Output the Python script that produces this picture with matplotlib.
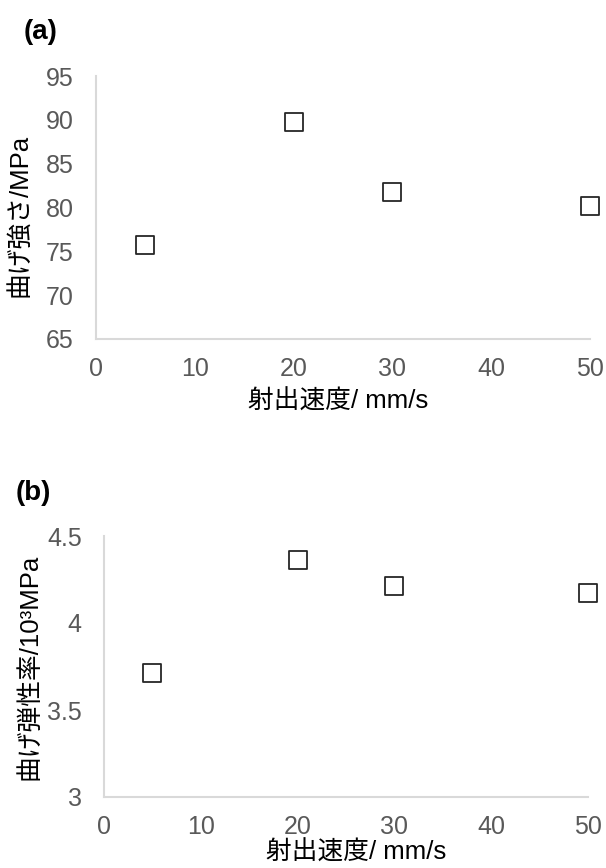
import matplotlib
matplotlib.use("Agg")
import matplotlib.pyplot as plt

plt.rcParams['font.family'] = ['Liberation Sans', 'Noto Sans CJK JP', 'DejaVu Sans']

# injection speed (mm/s)
speed = [5, 20, 30, 50]
strength = [75.7, 89.7, 81.8, 80.2]      # flexural strength, MPa
modulus = [3.71, 4.36, 4.21, 4.17]       # flexural modulus, 10^3 MPa

xticks = [0, 10, 20, 30, 40, 50]
yticks_a = [65, 70, 75, 80, 85, 90, 95]
yticks_b = [3, 3.5, 4, 4.5]
yticklabels_b = ['3', '3.5', '4', '4.5']

W, H = 606, 868
fig = plt.figure(figsize=(W/100, H/100), dpi=100)

def px_axes(left, top, right, bottom):
    return fig.add_axes([left/W, 1 - bottom/H, (right-left)/W, (bottom-top)/H])

def style(ax):
    for s in ['top', 'right']:
        ax.spines[s].set_visible(False)
    for s in ['left', 'bottom']:
        ax.spines[s].set_color('#d9d9d9')
        ax.spines[s].set_linewidth(1.5)
    ax.tick_params(length=0, labelsize=18, labelcolor='#595959')
    ax.tick_params(axis='x', pad=13)
    ax.tick_params(axis='y', pad=16)
    ax.set_xticks(xticks)
    ax.set_xlim(0, 50)

def labels(ax, xl, yl, xlx, xly, ylx, yly):
    ax.set_xlabel(xl, fontsize=18.5, va='center')
    ax.set_ylabel(yl, fontsize=18.5, va='center')
    ax.xaxis.set_label_coords(xlx, xly)
    ax.yaxis.set_label_coords(ylx, yly)

# (a)
ax1 = px_axes(96, 76, 590, 339)
ax1.scatter(speed, strength, marker='s', s=150, facecolors='white',
            edgecolors='#262626', linewidths=1.3, clip_on=False, zorder=3)
style(ax1)
ax1.set_ylim(65, 95)
ax1.set_yticks(yticks_a)
labels(ax1, '射出速度/ mm/s', '曲げ強さ/MPa', 0.49, -0.238, -0.155, 0.47)
fig.text(24/W, 1 - 32/H, '(a)', fontsize=20, fontweight='bold',
         family='Liberation Sans', va='center')

# (b)
ax2 = px_axes(104, 536, 588, 797)
ax2.scatter(speed, modulus, marker='s', s=150, facecolors='white',
            edgecolors='#262626', linewidths=1.3, clip_on=False, zorder=3)
style(ax2)
ax2.set_ylim(3, 4.5)
ax2.set_yticks(yticks_b)
ax2.set_yticklabels(yticklabels_b)
labels(ax2, '射出速度/ mm/s', '曲げ弾性率/10³MPa', 0.52, -0.215, -0.153, 0.5)
fig.text(16/W, 1 - 493/H, '(b)', fontsize=20, fontweight='bold',
         family='Liberation Sans', va='center')

fig.savefig('out.png', dpi=100)
